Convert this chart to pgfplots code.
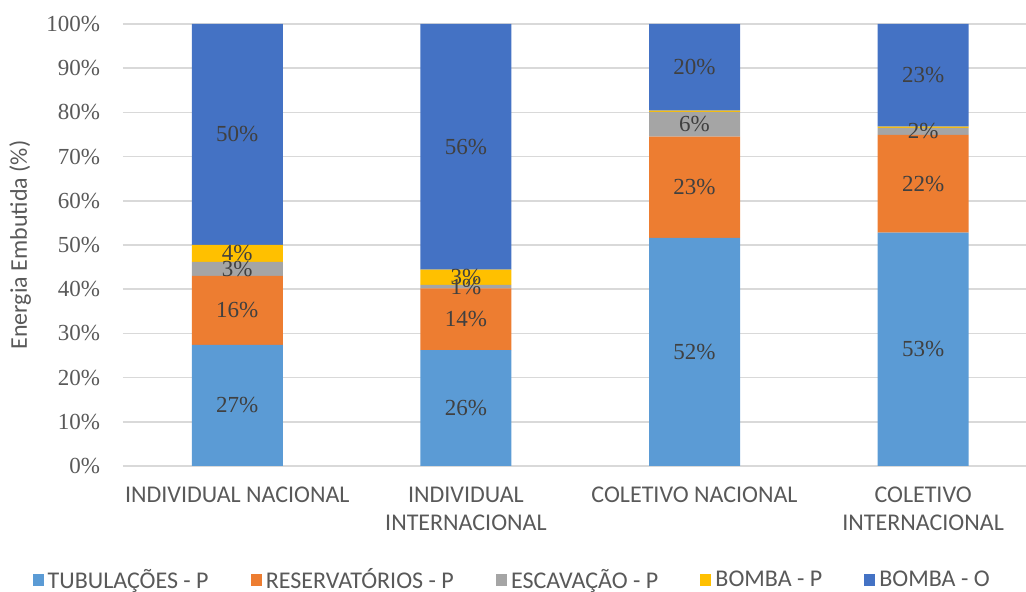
\documentclass[border=0pt]{standalone}
\usepackage{fontspec}
\setmainfont{Liberation Serif}
\newfontfamily\calibri{Carlito}
\usepackage{pgfplots}
\pgfplotsset{compat=1.18}

\definecolor{cTub}{HTML}{5B9BD5}
\definecolor{cRes}{HTML}{ED7D31}
\definecolor{cEsc}{HTML}{A5A5A5}
\definecolor{cBp}{HTML}{FFC000}
\definecolor{cBo}{HTML}{4472C4}
\definecolor{txt}{HTML}{595959}
\definecolor{lbl}{HTML}{404040}

\pgfplotsset{
  sq/.style={fill=#1, draw=none,
    /pgfplots/legend image code/.code={\fill[#1] (0pt,-2.8pt) rectangle (5.6pt,2.8pt);}},
}

\begin{document}
\begin{tikzpicture}[x=1pt,y=1pt]
\useasboundingbox (-61.5,-63) rectangle (451.5,233);
\begin{axis}[
  at={(0,0)}, anchor=south west,
  scale only axis,
  width=451.5pt, height=221pt,
  ybar stacked, bar width=45.5pt,
  xmin=-0.5, xmax=3.45,
  ymin=0, ymax=100,
  axis line style={draw=none},
  major tick length=0pt,
  ymajorgrids,
  grid style={color=gray!30, line width=0.8pt},
  ytick={0,10,...,100},
  yticklabel={\pgfmathprintnumber{\tick}\%},
  /pgf/number format/assume math mode=true,
  yticklabel style={font=\fontsize{11.5}{13}\selectfont, text=txt, xshift=-8pt},
  xtick={0,1,2,3},
  xticklabels={INDIVIDUAL NACIONAL, INDIVIDUAL\\INTERNACIONAL, COLETIVO NACIONAL, COLETIVO\\INTERNACIONAL},
  xticklabel style={align=center, anchor=north, font=\calibri\fontsize{12}{14}\selectfont, text=txt, yshift=-7pt},
  ylabel={Energia Embutida (\%)},
  ylabel style={at={(axis description cs:-0.114,0.5)}, anchor=center, font=\calibri\fontsize{12}{14}\selectfont, text=txt},
  table/row sep=\\,
  table/meta=lbl,
  point meta=explicit symbolic,
  nodes near coords,
  every node near coord/.append style={anchor=center, font=\fontsize{11.5}{13}\selectfont, text=lbl},
  legend columns=5,
  legend style={draw=none, at={(axis description cs:0.432,-0.258)}, anchor=center,
    font=\calibri\fontsize{12}{14}\selectfont, text=txt,
    /tikz/every even column/.append style={column sep=19pt}},
]
\addplot[sq=cTub] table {x y lbl\\ 0 27.4 27\%\\ 1 26.2 26\%\\ 2 51.6 52\%\\ 3 52.8 53\%\\};
\addplot[sq=cRes] table {x y lbl\\ 0 15.6 16\%\\ 1 14.0 14\%\\ 2 22.9 23\%\\ 3 22.1 22\%\\};
\addplot[sq=cEsc] table {x y lbl\\ 0 3.2 3\%\\ 1 0.8 1\%\\ 2 5.6 6\%\\ 3 1.6 2\%\\};
\addplot[sq=cBp] table {x y lbl\\ 0 3.8 4\%\\ 1 3.4 3\%\\ 2 0.3 {}\\ 3 0.3 {}\\};
\addplot[sq=cBo] table {x y lbl\\ 0 50.0 50\%\\ 1 55.6 56\%\\ 2 19.6 20\%\\ 3 23.2 23\%\\};
\legend{TUBULAÇÕES - P, RESERVATÓRIOS - P, ESCAVAÇÃO - P, BOMBA - P, BOMBA - O}
\end{axis}
\end{tikzpicture}
\end{document}
